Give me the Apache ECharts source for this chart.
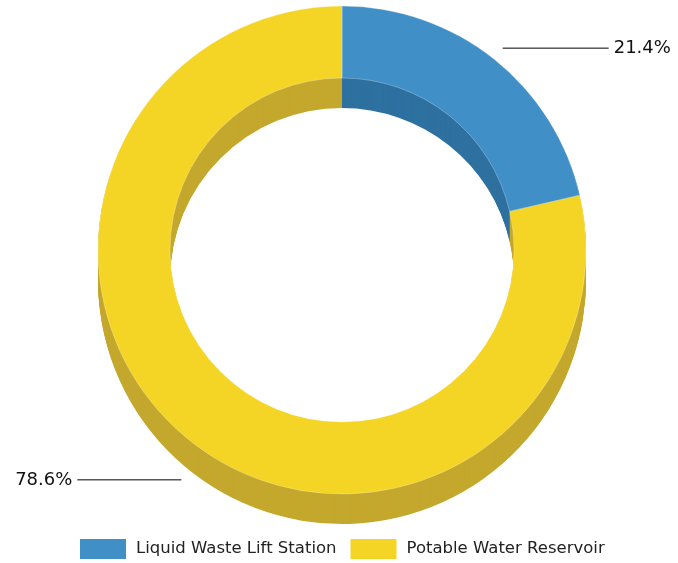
<!DOCTYPE html>
<html>
<head>
<meta charset="utf-8">
<script src="https://cdn.jsdelivr.net/npm/echarts@6/dist/echarts.min.js"></script>
<style>
html,body{margin:0;padding:0;background:#fff;}
#chart{width:678px;height:563px;}
</style>
</head>
<body>
<div id="chart"></div>
<script>
// ---- data ----
const categories = ['Liquid Waste Lift Station', 'Potable Water Reservoir'];
const values = [21.4, 78.6];
const labelTexts = ['21.4%', '78.6%'];

// ---- styles ----
const topColors = ['#418FC7', '#F4D424'];
const sideColors = ['#2E71A0', '#C4A82D'];
const CX = 342, CY = 250, R_IN = 172, R_OUT = 244, DEPTH = 30;

const chart = echarts.init(document.getElementById('chart'));
const series = [];

function sliceData(colors, withBorder) {
  return categories.map((c, i) => ({
    name: c,
    value: values[i],
    itemStyle: {
      color: colors[i],
      borderColor: withBorder ? 'rgba(255,255,255,0.45)' : colors[i],
      borderWidth: withBorder ? 0.6 : 0
    }
  }));
}

// extrusion (side walls)
for (let d = DEPTH; d >= 1; d--) {
  series.push({
    type: 'pie', silent: true, animation: false,
    center: [CX, CY + d], radius: [R_IN, R_OUT],
    startAngle: 90, clockwise: true,
    label: { show: false }, labelLine: { show: false },
    data: sliceData(sideColors, false)
  });
}
// top face
series.push({
  type: 'pie', silent: true, animation: false,
  center: [CX, CY], radius: [R_IN, R_OUT],
  startAngle: 90, clockwise: true,
  label: { show: false }, labelLine: { show: false },
  data: sliceData(topColors, true)
});

// label carriers (invisible)
function labelSeries(idx, cy, len2) {
  return {
    type: 'pie', silent: true, animation: false,
    center: [CX, cy], radius: [0, 258],
    startAngle: 90, clockwise: true,
    itemStyle: { color: 'rgba(0,0,0,0)' },
    data: categories.map((c, i) => ({
      name: c, value: values[i],
      label: {
        show: i === idx,
        formatter: labelTexts[i],
        color: '#111',
        fontFamily: 'DejaVu Sans',
        fontSize: 18
      },
      labelLine: {
        show: i === idx,
        length: 0,
        length2: len2,
        lineStyle: { color: '#000', width: 1 }
      }
    })),
    avoidLabelOverlap: false
  };
}
series.push(labelSeries(0, CY, 106));
series.push(labelSeries(1, CY + 28, 104));

chart.setOption({
  animation: false,
  legend: {
    left: 80, top: 539, padding: 0,
    itemWidth: 46, itemHeight: 20, itemGap: 14,
    icon: 'rect',
    selectedMode: false,
    textStyle: { fontFamily: 'DejaVu Sans', fontSize: 16.5, color: '#222', padding: [0, 0, 0, 5] },
    data: categories.map((c, i) => ({ name: c, itemStyle: { color: topColors[i] } }))
  },
  series: series
});
</script>
</body>
</html>
